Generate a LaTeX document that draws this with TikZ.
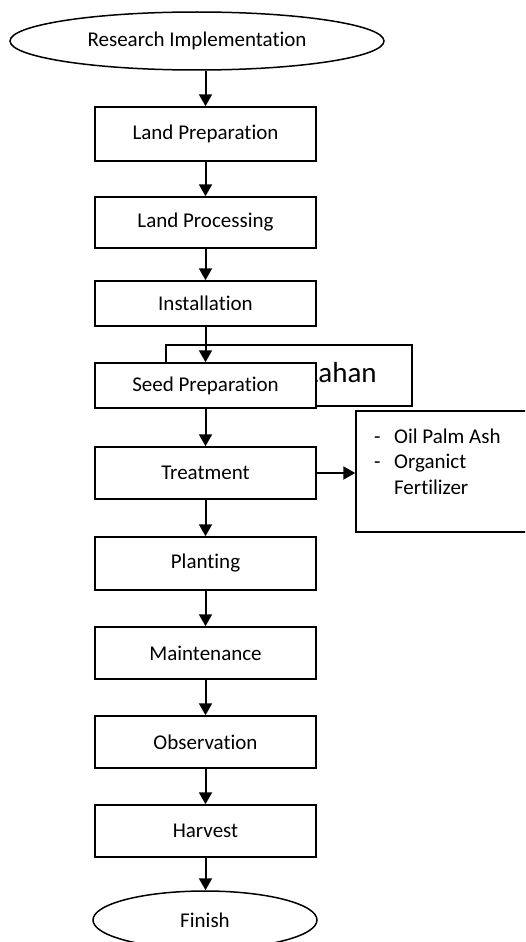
\documentclass[tikz,border=0pt]{standalone}
\usepackage{fontspec}
\setmainfont{Carlito}[Ligatures={NoCommon,NoRare}]
\usetikzlibrary{shapes.geometric,arrows.meta}
\begin{document}
\begin{tikzpicture}[x=1pt,y=1pt,
  every node/.style={font=\fontsize{21}{25.5}\selectfont},
  stepbox/.style={draw,line width=1.5pt,fill=white,rectangle,inner sep=0pt,minimum width=221pt},
  oval/.style={draw,line width=1.5pt,fill=white,ellipse,inner sep=0pt},
  arr/.style={line width=2pt,-{Triangle[length=12pt,width=13pt]}}]
\useasboundingbox (0,0) rectangle (525,-942);
\clip (0,0) rectangle (525,-942);
% nodes
\node[oval,minimum width=374pt,minimum height=58pt] (start) at (197,-41) {Research Implementation};
\node[stepbox,minimum height=54pt] (prep) at (205.5,-134) {Land Preparation};
\node[stepbox,minimum height=51pt] (proc) at (205.5,-222.5) {Land Processing};
\node[stepbox,minimum height=45pt] (inst) at (205.5,-303.5) {Installation};
\node[draw,line width=1.5pt,rectangle,inner sep=0pt,minimum width=246pt,minimum height=61pt] (lahan) at (289,-375.5) {};
\node[anchor=base west,inner sep=0pt,font=\fontsize{29}{34}\selectfont] (lahantext) at (306,-382) {Lahan};
\node[stepbox,minimum height=45pt] (seed) at (205.5,-385.5) {Seed Preparation};
\node[stepbox,minimum height=52pt] (treat) at (205.5,-473) {Treatment};
\node[draw,line width=1.5pt,rectangle,inner sep=0pt,minimum width=184pt,minimum height=121pt] (side) at (448,-471.5) {};
\node[anchor=base west,inner sep=0pt] (sidetext) at (374,-443)
  {\begin{tabular}[t]{@{}l@{\hspace{13.5pt}}l@{}}-&Oil Palm Ash\\-&Organict\\&Fertilizer\end{tabular}};
\node[stepbox,minimum height=53pt] (plant) at (205.5,-563.5) {Planting};
\node[stepbox,minimum height=52pt] (maint) at (205.5,-653) {Maintenance};
\node[stepbox,minimum height=52pt] (obs) at (205.5,-742) {Observation};
\node[stepbox,minimum height=52pt] (harv) at (205.5,-831) {Harvest};
\node[oval,minimum width=224pt,minimum height=58pt] (fin) at (205,-920) {Finish};
% connectors
\draw[arr] (start.south -| prep.north) -- (prep.north);
\draw[arr] (prep) -- (proc);
\draw[arr] (proc) -- (inst);
\draw[arr] (inst) -- (seed);
\draw[arr] (seed) -- (treat);
\draw[arr] (treat) -- (plant);
\draw[arr] (plant) -- (maint);
\draw[arr] (maint) -- (obs);
\draw[arr] (obs) -- (harv);
\draw[arr] (harv.south) -- (harv.south |- fin.north);
\draw[arr] (treat.east) -- (treat.east -| side.west);
\end{tikzpicture}
\end{document}
